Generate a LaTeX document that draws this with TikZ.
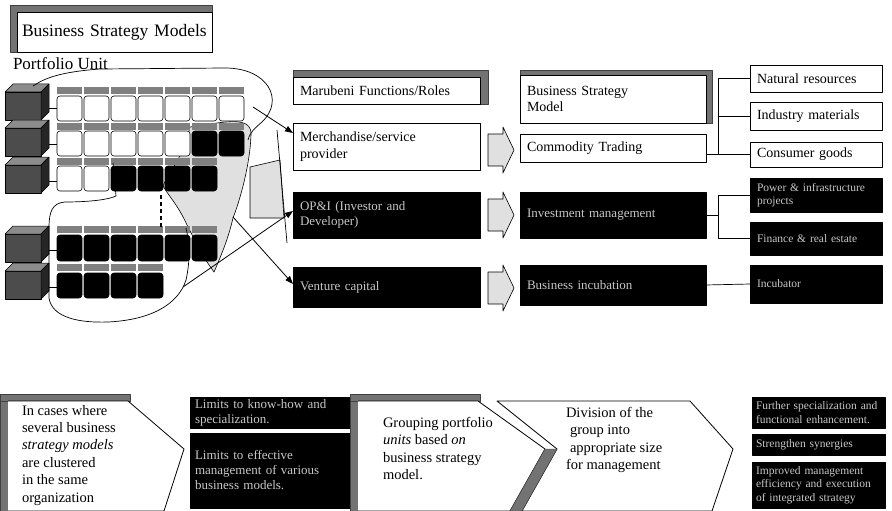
\documentclass[tikz,border=0pt]{standalone}
\usepackage{fontspec}
\setmainfont{Liberation Serif}
\usetikzlibrary{arrows.meta,calc}
\begin{document}
\begin{tikzpicture}[x=1pt,y=-1pt,line join=round,
  every node/.style={inner sep=0pt,outer sep=0pt},
  bx/.style n args={3}{anchor=north west,minimum width=#1pt,minimum height=#2pt,text width=#3pt,align=left,inner xsep=7pt},
  lightbox/.style={draw=black,line width=0.8pt,fill=white},
  darkbox/.style={draw=black,line width=0.8pt,fill=black,text=black!22},
  grain/.style={fill=black!55,draw=black!75,line width=0.3pt},
  stipple/.style={fill=black!12,draw=black,line width=0.6pt},
  txt/.style={font=\fontsize{14}{16.5}\selectfont},
  big/.style={font=\fontsize{14.5}{17.4}\selectfont},
  small/.style={font=\fontsize{13}{15}\selectfont},
  tiny/.style={font=\fontsize{11.5}{13.5}\selectfont},
  lasso/.style={draw=black,line width=0.7pt},
  link/.style={draw=black,line width=0.8pt,-{Triangle[length=8pt,width=6pt]}},
  tie/.style={draw=black,line width=0.7pt},
  sq/.style={draw=black,line width=0.6pt,rounded corners=3pt},
  unitcube/.pic={
    \filldraw[fill=black!70,draw=black,line width=0.5pt] (0,8) rectangle (36,36);
    \filldraw[fill=black!45,draw=black,line width=0.5pt] (0,8) -- (8,0) -- (44,0) -- (36,8) -- cycle;
    \filldraw[fill=black!85,draw=black,line width=0.5pt] (36,8) -- (44,0) -- (44,28) -- (36,36) -- cycle;
    \draw[line width=0.6pt] (44,24) -- (52,24);
  },
  fatarrow/.pic={
    \draw[stipple] (0,-16) -- (15,-16) -- (15,-23) -- (26,0) -- (15,23) -- (15,16) -- (0,16) -- cycle;
  }
]
\useasboundingbox (0,0) rectangle (892,511);

% ---------- title and label ----------
\fill[grain] (10,5) rectangle (212,52);
\node[lightbox,bx={195}{40}{185},font=\fontsize{17.5}{20}\selectfont,inner xsep=5pt] (title) at (17,12) {Business Strategy Models};
\node[anchor=north west,font=\fontsize{17}{20}\selectfont] (pu) at (13,58) {Portfolio Unit};

% ---------- shaded lasso behind the units ----------
\draw[stipple] (190,127) .. controls (225,122) and (252,115) .. (251,135)
  .. controls (250,165) and (240,200) .. (233,218)
  .. controls (228,240) and (220,258) .. (214,272)
  -- (207,262) .. controls (200,250) and (192,235) .. (187,225)
  .. controls (178,205) and (168,195) .. (163,186)
  .. controls (170,170) and (182,160) .. cycle;
\draw[stipple] (250,167) -- (280,160) -- (284,218) -- (250,218) -- cycle;
\draw[lasso] (277,130) -- (287,243);

% ---------- portfolio unit rows ----------
\pic at (5,84) {unitcube};
\pic at (5,120) {unitcube};
\pic at (5,157) {unitcube};
\pic at (5,226) {unitcube};
\pic at (5,263) {unitcube};

\foreach \c [count=\i from 0] in {white,white,white,white,white,white,white}{
  \fill[black!50] (57+27*\i,87) rectangle ++(25,7);
  \draw[sq,fill=\c] (57+27*\i,96) rectangle ++(25,25);}
\foreach \c [count=\i from 0] in {white,white,white,white,white,black,black}{
  \fill[black!50] (57+27*\i,123) rectangle ++(25,7);
  \draw[sq,fill=\c] (57+27*\i,131) rectangle ++(25,25);}
\foreach \c [count=\i from 0] in {white,white,black,black,black,black}{
  \fill[black!50] (57+27*\i,158) rectangle ++(25,7);
  \draw[sq,fill=\c] (57+27*\i,166) rectangle ++(25,25);}
\foreach \c [count=\i from 0] in {black,black,black,black,black,black}{
  \fill[black!50] (57+27*\i,226) rectangle ++(25,7);
  \draw[sq,fill=\c] (57+27*\i,235) rectangle ++(25,26);}
\foreach \c [count=\i from 0] in {black,black,black,black}{
  \fill[black!50] (57+27*\i,264) rectangle ++(25,7);
  \draw[sq,fill=\c] (57+27*\i,273) rectangle ++(25,25);}

\draw[line width=2pt,dash pattern=on 4pt off 3pt] (161,195) -- (161,228);

% ---------- lassos ----------
\draw[lasso] (33,86) .. controls (45,78) and (60,72) .. (100,69) -- (225,68)
  .. controls (268,68) and (285,100) .. (262,122)
  .. controls (255,128) and (250,132) .. (248,140);
\draw[lasso] (113,163) -- (116,196) .. controls (105,201) and (80,202) .. (65,202)
  .. controls (52,203) and (49,212) .. (49,228) -- (49,298)
  .. controls (52,318) and (80,323) .. (108,322)
  .. controls (150,320) and (178,305) .. (186,280)
  .. controls (190,262) and (190,245) .. (186,228);

% ---------- functions / roles ----------
\fill[grain] (293,70) rectangle (488,104);
\node[lightbox,bx={187}{27}{173},txt] (roles) at (293,77) {Marubeni Functions/Roles};
\node[lightbox,bx={187}{47}{173},txt] (merch) at (293,123) {Merchandise/service\\provider};
\node[darkbox,bx={187}{46}{173},small] (opi) at (293,192) {OP\&I (Investor and\\Developer)};
\node[darkbox,bx={187}{40}{173},small] (vent) at (293,267) {Venture capital};

% ---------- strategy models ----------
\fill[grain] (520,70) rectangle (712,123);
\node[lightbox,bx={186}{48}{172},txt] (bsm) at (520,75) {Business Strategy\\Model};
\node[lightbox,bx={186}{28}{172},txt] (comm) at (520,134) {Commodity Trading};
\node[darkbox,bx={186}{46}{172},small] (inv) at (520,192) {Investment management};
\node[darkbox,bx={186}{40}{172},small] (incub) at (520,265) {Business incubation};

\pic at (488,150) {fatarrow};
\pic at (488,215) {fatarrow};
\pic at (488,288) {fatarrow};

% ---------- business fields ----------
\node[lightbox,bx={132}{27}{118},txt] (nat) at (750,65) {Natural resources};
\node[lightbox,bx={132}{28}{118},txt] (ind) at (750,102) {Industry materials};
\node[lightbox,bx={132}{25}{118},txt] (cons) at (750,142) {Consumer goods};
\node[darkbox,bx={132}{34}{118},tiny] (infra) at (750,178) {Power \& infrastructure\\projects};
\node[darkbox,bx={132}{33}{118},tiny] (fin) at (750,222) {Finance \& real estate};
\node[darkbox,bx={132}{38}{118},tiny] (incb) at (750,265) {Incubator};

\coordinate (brk) at (718,0);
\draw[tie] (cons.west -| comm.east) -- (cons.west);
\draw[tie] (brk |- cons.west) -- (brk |- nat.west) -- (nat.west);
\draw[tie] (brk |- ind.west) -- (ind.west);
\draw[tie] (inv.east) -- (inv.east -| brk);
\draw[tie] (infra.west) -- (brk |- infra.west) -- (brk |- fin.west) -- (fin.west);
\draw[tie] (incub.east) -- (incb.west);

% ---------- assignment arrows ----------
\coordinate (srcA) at (253,107);
\coordinate (srcB) at (183,287);
\coordinate (srcC) at (233,217);
\draw[link] (srcA) -- ($(merch.north west)+(0,10)$);
\draw[link] (srcB) -- ($(opi.west)+(0,-4)$);
\draw[link] (srcC) -- ($(vent.west)+(0,-3)$);

% ---------- lower flow ----------
\fill[grain] (0,394) rectangle (8,511);
\fill[grain] (0,394) rectangle (130,401);
\draw[lightbox] (8,401) -- (128,401) -- (184,449) -- (164,511) -- (8,511);
\node[anchor=north west,align=left,big] (case) at (22,405) {In cases where\\several business\\\textit{strategy models}\\are clustered\\in the same\\organization};

\node[darkbox,bx={170}{31}{160},small,inner xsep=5pt] (lim1) at (190,397) {Limits to know-how and\\specialization.};
\node[darkbox,bx={170}{75}{160},small,inner xsep=5pt] (lim2) at (190,433) {Limits to effective\\management of various\\business models.};

\fill[grain] (350,394) rectangle (358,511);
\fill[grain] (350,394) rectangle (480,401);
\draw[lightbox] (358,401) -- (478,401) -- (545,449) -- (510,511) -- (358,511);
\node[anchor=north west,align=left,big] (group) at (383,417) {Grouping portfolio\\\textit{units} based \textit{on}\\business strategy\\model.};

\draw[lightbox] (497,401) -- (690,401) -- (733,449) -- (712,511) -- (522,511) -- (557,449) -- cycle;
\fill[grain] (545,449) -- (557,449) -- (522,511) -- (510,511) -- cycle;
\node[anchor=north west,align=left,big] (divide) at (566,407) {Division of the\\\hspace{4pt}group into\\\hspace{4pt}appropriate size\\for management};

\node[darkbox,bx={133}{31}{125},tiny,inner xsep=4pt] (res1) at (752,397) {Further specialization and\\functional enhancement.};
\node[darkbox,bx={133}{21}{125},tiny,inner xsep=4pt] (res2) at (752,434) {Strengthen synergies};
\node[darkbox,bx={133}{46}{125},tiny,inner xsep=4pt] (res3) at (752,462) {Improved management\\efficiency and execution\\of integrated strategy};
\end{tikzpicture}
\end{document}
